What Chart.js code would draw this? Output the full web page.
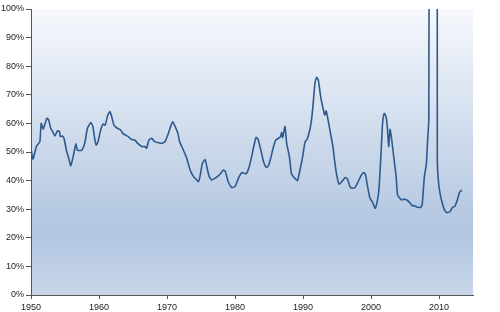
<!DOCTYPE html>
<html><head><meta charset="utf-8">
<script src="https://cdn.jsdelivr.net/npm/chart.js@4/dist/chart.umd.min.js"></script>
<style>html,body{margin:0;padding:0;background:#fff}#wrap{width:500px;height:312px}</style>
</head><body><div id="wrap"><canvas id="c" width="500" height="312"></canvas></div>
<script>
const years = [1950.0,1950.3,1950.8,1951.3,1951.5,1951.8,1952.0,1952.35,1952.6,1952.9,1953.2,1953.5,1953.9,1954.2,1954.3,1954.6,1954.85,1955.2,1955.55,1955.85,1956.2,1956.6,1956.8,1957.2,1957.5,1957.9,1958.3,1958.8,1959.1,1959.4,1959.6,1959.85,1960.25,1960.6,1960.9,1961.3,1961.6,1961.8,1962.2,1962.7,1963.2,1963.5,1963.9,1964.3,1964.75,1965.25,1965.7,1966.3,1966.75,1967.0,1967.35,1967.75,1968.2,1968.7,1969.2,1969.7,1970.2,1970.6,1970.85,1971.2,1971.6,1971.9,1972.4,1972.9,1973.4,1973.9,1974.3,1974.6,1974.85,1975.2,1975.6,1975.8,1976.2,1976.6,1977.05,1977.5,1977.9,1978.3,1978.6,1979.0,1979.5,1980.0,1980.5,1981.0,1981.4,1981.7,1982.1,1982.45,1982.8,1983.1,1983.4,1983.8,1984.2,1984.6,1984.9,1985.25,1985.6,1986.0,1986.4,1986.7,1986.85,1987.0,1987.35,1987.6,1988.0,1988.3,1988.8,1989.2,1989.55,1989.95,1990.3,1990.6,1991.0,1991.25,1991.5,1991.75,1992.0,1992.25,1992.6,1993.0,1993.2,1993.4,1993.6,1994.0,1994.4,1994.7,1994.95,1995.3,1995.7,1996.2,1996.55,1996.9,1997.25,1997.65,1998.1,1998.6,1998.95,1999.2,1999.5,1999.85,2000.2,2000.6,2001.0,2001.2,2001.5,2001.7,2001.95,2002.2,2002.4,2002.6,2002.8,2003.05,2003.4,2003.7,2003.9,2004.25,2004.5,2004.9,2005.25,2005.7,2006.05,2006.45,2006.85,2007.35,2007.55,2007.85,2008.15,2008.3,2008.5,2008.77,2009.65,2009.75,2009.9,2010.15,2010.5,2010.85,2011.2,2011.6,2012.0,2012.3,2012.7,2013.0,2013.25,2013.4];
const values = [51,47.5,52,53.6,60,58,59.4,61.8,61.2,58.3,57.1,55.6,57.4,57.1,55.4,55.6,54.8,50.7,47.8,45.2,48.4,52.8,50.7,50.5,50.7,53,58.3,60.3,58.9,54.2,52.4,53.6,57.7,59.8,59.4,62.9,64.1,62.9,59.4,58.3,57.7,56.5,55.9,55.4,54.4,54.2,53,51.9,51.9,51.3,54.2,54.8,53.6,53.3,53,53.6,56.5,59.4,60.6,58.9,56.5,53.3,50.7,47.8,43.7,41.4,40.4,39.6,41.4,46,47.4,45.5,41.4,40.2,40.8,41.6,42.5,43.7,43.1,39.6,37.6,37.9,40.8,42.8,42.5,42.5,44.9,48.4,52.4,55.1,54.4,50.7,46.6,44.6,45.1,47.8,51.3,54.2,54.8,55.4,56.8,55,58.9,53,48.4,42.5,40.8,40,43.7,48.4,53.6,54.4,57.7,61.2,67,74,76.1,75.2,69.3,64.7,62.9,64.4,62.4,57.1,51.9,46,42,38.8,39.6,41.1,40.5,37.9,37.3,37.6,39.6,42,42.8,42,37.9,33.8,32.6,30.3,33.8,37.9,50.7,60,63.5,62.4,58.9,51.9,57.9,54.2,47.2,41.4,35,33.8,33.2,33.5,33.2,32.3,31.3,31.1,30.7,30.7,32.1,41.4,46,53,61.2,300,300,47.2,40.2,35.5,32,29.5,28.8,29.1,30.7,30.9,33.2,35.8,36.5,36.5];
const xTickValues = [1950,1960,1970,1980,1990,2000,2010];
const yTickValues = [0,10,20,30,40,50,60,70,80,90,100];

const bgPlugin = {
  id: 'bg',
  beforeDraw(chart) {
    const {ctx, chartArea: a} = chart;
    const g = ctx.createLinearGradient(0, a.top, 0, a.bottom);
    g.addColorStop(0, '#f6f8fc');
    g.addColorStop(0.78, '#b1c5e0');
    g.addColorStop(1, '#c9d7ea');
    ctx.save();
    ctx.fillStyle = g;
    ctx.fillRect(a.left, a.top, a.right - a.left, a.bottom - a.top);
    ctx.restore();
  }
};

new Chart(document.getElementById('c'), {
  type: 'line',
  data: {
    datasets: [{
      data: years.map((y, i) => ({x: y, y: values[i]})),
      borderColor: '#2d5a8e',
      borderWidth: 1.6,
      pointRadius: 0,
      tension: 0.15,
      fill: false
    }]
  },
  options: {
    responsive: false,
    animation: false,
    layout: {padding: {top: 9, right: 27, left: 0, bottom: 0}},
    plugins: {legend: {display: false}, tooltip: {enabled: false}},
    scales: {
      x: {
        type: 'linear', min: 1950, max: 2015,
        afterBuildTicks: s => { s.ticks = xTickValues.map(v => ({value: v})); },
        afterFit: s => { s.height = 17; },
        grid: {drawOnChartArea: false, drawTicks: true, tickLength: 4, color: '#555'},
        border: {display: true, color: '#555', width: 1},
        ticks: {font: {family: 'Liberation Sans', size: 9}, color: '#222', padding: 3, maxRotation: 0,
          callback: v => String(v)}
      },
      y: {
        min: 0, max: 100,
        afterBuildTicks: s => { s.ticks = yTickValues.map(v => ({value: v})); },
        afterFit: s => { s.width = 31; },
        grid: {drawOnChartArea: false, drawTicks: true, tickLength: 5, color: '#555'},
        border: {display: true, color: '#555', width: 1},
        ticks: {font: {family: 'Liberation Sans', size: 9}, color: '#222', padding: 2,
          callback: v => v + '%'}
      }
    }
  },
  plugins: [bgPlugin]
});
</script>
</body></html>
